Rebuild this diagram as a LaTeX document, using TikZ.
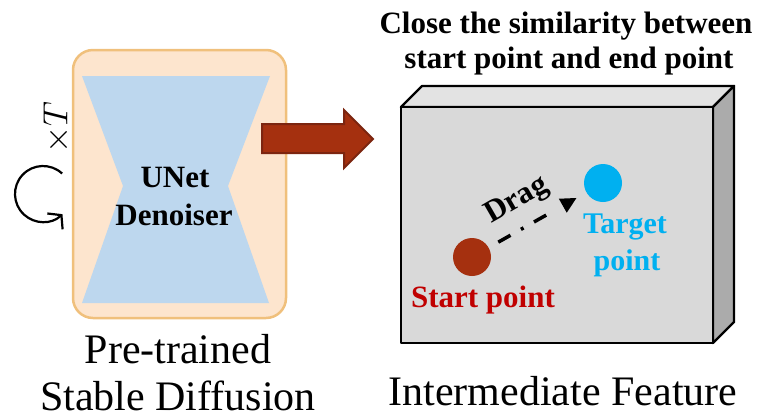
\documentclass[tikz,border=0pt]{standalone}
\usepackage{graphicx}
\usepackage{fontspec}
\setmainfont{Liberation Serif}
\usetikzlibrary{arrows.meta,calc}

\definecolor{peach}{HTML}{FDE5CE}
\definecolor{peachedge}{HTML}{F0C07C}
\definecolor{unetblue}{HTML}{BDD7EE}
\definecolor{arrowred}{HTML}{A5300F}
\definecolor{arrowedge}{HTML}{7C2510}
\definecolor{facefront}{HTML}{D9D9D9}
\definecolor{facetop}{HTML}{E3E3E3}
\definecolor{faceside}{HTML}{ABABAB}
\definecolor{startred}{HTML}{C00000}
\definecolor{startdot}{HTML}{A5300F}
\definecolor{targetblue}{HTML}{00B0F0}

\begin{document}
\begin{tikzpicture}[x=1pt,y=-1pt,
  lbl/.style={inner sep=0pt, anchor=base},
  bigtext/.style={lbl, font=\fontsize{42}{48}\selectfont},
  boldtext/.style={lbl, font=\fontsize{31}{36}\selectfont\bfseries},
  pointdot/.style={circle, minimum size=38pt, inner sep=0pt},
  edge3d/.style={draw=black, line width=2.4pt, line join=round},
]
\useasboundingbox (0,0) rectangle (766,416);

% ---- pre-trained model block ----
\draw[fill=peach, draw=peachedge, line width=2.5pt, rounded corners=20pt]
  (73,50) rectangle (286,318);
\fill[unetblue] (82,76) -- (270,76) -- (228,186) -- (269,303)
  -- (82,303) -- (123,186) -- cycle;
\node[boldtext] (unet) at (175,187) {UNet};
\node[boldtext] (deno) at (174,225) {Denoiser};

\node[bigtext] (pre) at (178,363) {Pre-trained};
\node[bigtext] (sd) at (178,410) {Stable Diffusion};

% repeat loop marker
\coordinate (loopc) at (43,194);
\draw[line width=2.2pt, -{Straight Barb[length=9pt, width=22pt, line width=2.2pt]}]
  ([shift={(-47:28)}]loopc) arc[start angle=-47, end angle=-314, radius=28];
\node[inner sep=0pt, rotate=90, font=\fontsize{24}{28}\selectfont] (times) at (57,128)
  {\scalebox{1.4}{$\times T$}};

% ---- block arrow ----
\draw[fill=arrowred, draw=arrowedge, line width=2pt, line join=miter]
  (262,124) -- (344,124) -- (344,110) -- (373,139) -- (344,168)
  -- (344,153) -- (262,153) -- cycle;

% ---- feature map cuboid ----
\draw[edge3d, fill=facetop] (401,107) -- (422,86) -- (734,86) -- (713,107) -- cycle;
\draw[edge3d, fill=faceside] (713,107) -- (734,86) -- (734,322) -- (713,343) -- cycle;
\draw[edge3d, fill=facefront] (401,107) rectangle (713,343);

\node[boldtext] (t1) at (566,33) {Close the similarity between};
\node[boldtext] (t2) at (569,68) {start point and end point};

\node[pointdot, fill=startdot] (start) at (472,257) {};
\node[pointdot, fill=targetblue] (target) at (603,183) {};

\node[boldtext, text=startred] (startlbl) at (483,307) {Start point};
\node[boldtext, text=targetblue, font=\fontsize{30}{36}\selectfont\bfseries] (tgt1) at (625,233) {Target};
\node[boldtext, text=targetblue, font=\fontsize{30}{36}\selectfont\bfseries] (tgt2) at (627,270) {point};

\draw[line width=3.5pt, dash pattern={on 14pt off 12pt on 3pt off 12pt on 14pt off 40pt},
  -{Triangle[length=16pt, width=15pt]}, shorten <=11pt, shorten >=11pt]
  (start) -- (target);
\node[inner sep=0pt, rotate=30, font=\fontsize{31}{36}\selectfont\bfseries] (drag) at (517,201) {Drag};

\node[bigtext] (inter) at (563,405) {Intermediate Feature};
\end{tikzpicture}
\end{document}
